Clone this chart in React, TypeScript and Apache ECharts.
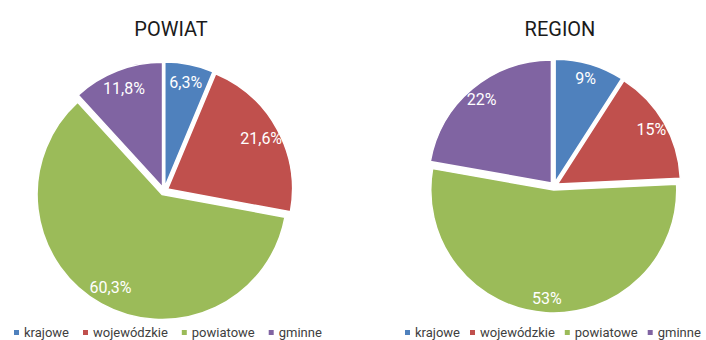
import React, { useEffect, useRef } from "react";
import * as echarts from "echarts";

const categories = ["krajowe", "wojewódzkie", "powiatowe", "gminne"];
const powiatValues = [6.3, 21.6, 60.3, 11.8];
const regionValues = [9, 15, 53, 22];
const chartTitles = ["POWIAT", "REGION"];
const colors = ["#4F81BD", "#C0504D", "#9BBB59", "#8064A2"];

const fmt = (v: number) => String(v).replace(".", ",") + "%";

export default function App() {
  const ref = useRef<HTMLDivElement>(null);
  useEffect(() => {
    if (!ref.current) return;
    const chart = echarts.init(ref.current, undefined, { renderer: "svg" });
    const mkData = (vals: number[]) =>
      vals.map((v, i) => ({ name: categories[i], value: v, selected: true }));
    const mainSeries = (vals: number[], center: number[], r: number) => ({
      type: "pie",
      center,
      radius: [0, r],
      startAngle: 90,
      selectedMode: "multiple",
      selectedOffset: 4,
      silent: true,
      label: { show: false },
      labelLine: { show: false },
      itemStyle: { borderColor: "#fff", borderWidth: 1.5 },
      emphasis: { disabled: true },
      select: { disabled: false, itemStyle: { borderColor: "#fff", borderWidth: 1.5 } },
      data: mkData(vals),
    });
    const labelSeries = (vals: number[], center: number[], r0: number, r: number) => ({
      type: "pie",
      center,
      radius: [r0, r],
      startAngle: 90,
      selectedMode: "multiple",
      selectedOffset: 4,
      silent: true,
      itemStyle: { color: "rgba(0,0,0,0)", borderWidth: 0 },
      select: { itemStyle: { color: "rgba(0,0,0,0)", borderWidth: 0 } },
      emphasis: { disabled: true },
      label: {
        show: true,
        position: "inside",
        color: "#fff",
        fontSize: 16,
        fontFamily: "Roboto",
        formatter: (p: any) => fmt(p.value),
      },
      labelLine: { show: false },
      data: mkData(vals),
    });
    const legendBase = {
      data: categories,
      icon: "rect",
      itemWidth: 7,
      itemHeight: 7,
      padding: 0,
      width: 340,
      selectedMode: false,
      textStyle: { color: "#404040", fontSize: 13, fontFamily: "Roboto", padding: [0, 0, 0, -1] },
      top: 326,
    };
    chart.setOption({
      animation: false,
      color: colors,
      title: [
        {
          text: chartTitles[0],
          left: 166,
          top: 14,
          textAlign: "center",
          textStyle: { fontSize: 20, fontWeight: "normal", color: "#1a1a1a", fontFamily: "Roboto" },
        },
        {
          text: chartTitles[1],
          left: 555,
          top: 14,
          textAlign: "center",
          textStyle: { fontSize: 20, fontWeight: "normal", color: "#1a1a1a", fontFamily: "Roboto" },
        },
      ],
      legend: [
        { ...legendBase, left: 12, itemGap: 12 },
        { ...legendBase, left: 403, itemGap: 8 },
      ],
      series: [
        mainSeries(powiatValues, [164, 191], 125),
        mainSeries(regionValues, [554, 186], 123),
        labelSeries(powiatValues, [164, 191], 82, 125),
        labelSeries(regionValues, [554, 186], 88, 123),
      ],
    });
    return () => chart.dispose();
  }, []);
  return (
    <div
      ref={ref}
      style={{ position: "fixed", left: 0, top: 0, width: 706, height: 340, background: "#fff" }}
    />
  );
}
